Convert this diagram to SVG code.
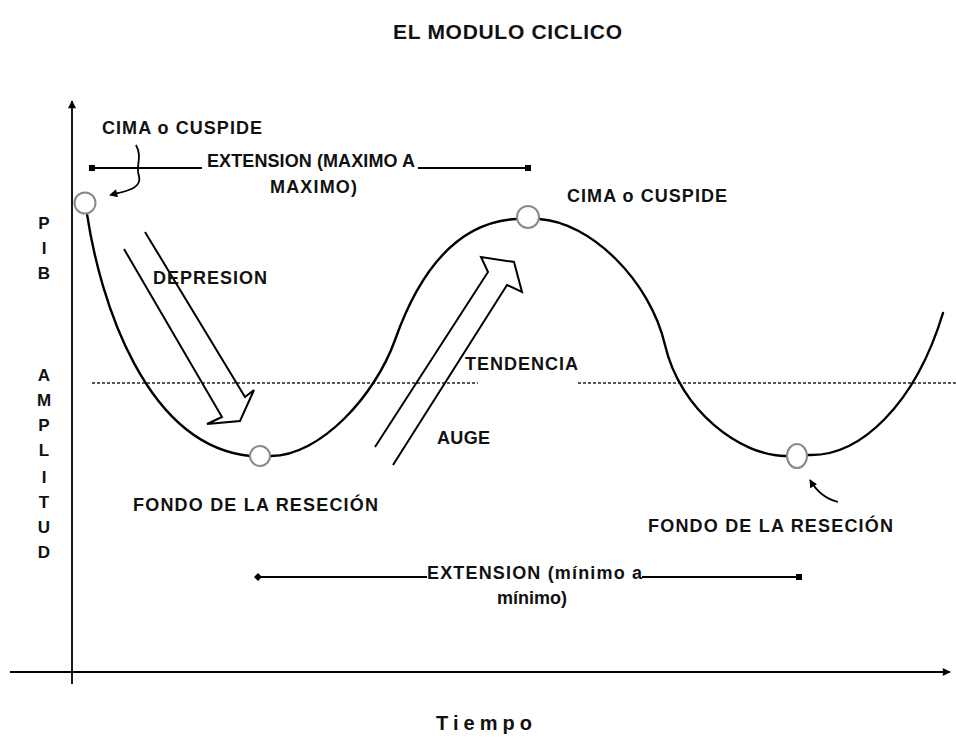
<svg xmlns="http://www.w3.org/2000/svg" width="956" height="738" viewBox="0 0 956 738">
<style>
text{font-family:"Liberation Sans",Arial,sans-serif;font-weight:bold;fill:#111;}
.lbl{font-size:18px;}
.ax{font-size:17px;text-anchor:middle;}
.ttl{font-size:21px;}
.tx{font-size:20px;}
.ln{stroke:#000;stroke-width:1.8;fill:none;}
.curve{stroke:#000;stroke-width:2.4;fill:none;stroke-linecap:round;}
.dot{stroke:#222;stroke-width:1.6;stroke-dasharray:3 2;fill:none;}
.pt{fill:#fff;stroke:#8a8a8a;stroke-width:2;}
.blk{stroke:#000;stroke-width:2;fill:none;stroke-linejoin:miter;}
</style>
<defs>
<marker id="ah" viewBox="0 0 10 10" refX="9" refY="5" markerWidth="9" markerHeight="8" markerUnits="userSpaceOnUse" orient="auto"><path d="M0,0 L10,5 L0,10 z" fill="#000"/></marker>
<marker id="sq" viewBox="0 0 6 6" refX="3" refY="3" markerWidth="6" markerHeight="6" markerUnits="userSpaceOnUse" orient="auto"><rect width="6" height="6" fill="#000"/></marker>
<marker id="dm" viewBox="0 0 8 8" refX="4" refY="4" markerWidth="8" markerHeight="8" markerUnits="userSpaceOnUse" orient="auto"><path d="M0,4 L4,0 L8,4 L4,8 z" fill="#000"/></marker>
</defs>
<rect width="956" height="738" fill="#fff"/>

<g id="title"><text class="ttl" x="393" y="39" textLength="229" lengthAdjust="spacing">EL MODULO CICLICO</text></g>

<g id="axes">
<line class="ln" x1="72" y1="684" x2="72" y2="101" marker-end="url(#ah)"/>
<line class="ln" x1="10" y1="672" x2="950" y2="672" marker-end="url(#ah)"/>
</g>

<g id="axis-label-y">
<text class="ax" x="44" y="229">P</text>
<text class="ax" x="44" y="254">I</text>
<text class="ax" x="44" y="279">B</text>
<text class="ax" x="44" y="381">A</text>
<text class="ax" x="44" y="406">M</text>
<text class="ax" x="44" y="431">P</text>
<text class="ax" x="44" y="456">L</text>
<text class="ax" x="44" y="483">I</text>
<text class="ax" x="44" y="508">T</text>
<text class="ax" x="44" y="533">U</text>
<text class="ax" x="44" y="558">D</text>
</g>
<g id="axis-label-x"><text class="tx" x="436" y="730" textLength="96" lengthAdjust="spacing">Tiempo</text></g>

<g id="tendencia-line">
<line class="dot" x1="92" y1="383" x2="478" y2="383"/>
<line class="dot" x1="578" y1="383" x2="956" y2="383"/>
</g>

<g id="cycle-curve">
<path class="curve" d="M87,214 C100,300 145,445 250,456 M271,456 C320,456 375,396 395,340 C418,275 455,222 517,219 M539,219 C590,222 650,280 665,345 C680,410 740,456 786,456 M808,455 C860,457 915,405 943,313"/>
</g>

<g id="connectors">
<path class="blk" d="M124,249 L222,417 L207,424 L240,421 L254,390 L245,397 L145,232"/>
<path class="blk" d="M375,447 L488,272 L481,257 L514,262 L522,292 L507,285 L393,465"/>
<path class="ln" d="M136,145 C143,158 135,166 139,176 C142,189 126,191 110,195" marker-end="url(#ah)"/>
<path class="ln" d="M838,502 C826,499 817,492 810,480" marker-end="url(#ah)"/>
<line class="ln" x1="92" y1="168" x2="202" y2="168" marker-start="url(#sq)"/>
<line class="ln" x1="418" y1="168" x2="528" y2="168" marker-end="url(#sq)"/>
<line class="ln" x1="258" y1="577" x2="427" y2="577" marker-start="url(#dm)"/>
<line class="ln" x1="642" y1="577" x2="799" y2="577" marker-end="url(#sq)"/>
</g>

<g id="cima1"><circle class="pt" cx="85" cy="203" r="10.5"/><text class="lbl" x="102" y="134" textLength="160" lengthAdjust="spacing">CIMA o CUSPIDE</text></g>
<g id="fondo1"><circle class="pt" cx="260" cy="456" r="10"/><text class="lbl" x="133" y="511" textLength="245" lengthAdjust="spacing">FONDO DE LA RESECIÓN</text></g>
<g id="cima2"><circle class="pt" cx="528" cy="217" r="11"/><text class="lbl" x="567" y="202" textLength="160" lengthAdjust="spacing">CIMA o CUSPIDE</text></g>
<g id="fondo2"><ellipse class="pt" cx="797" cy="456" rx="10" ry="12"/><text class="lbl" x="648" y="532" textLength="245" lengthAdjust="spacing">FONDO DE LA RESECIÓN</text></g>
<g id="depresion"><text class="lbl" x="153" y="284" textLength="114" lengthAdjust="spacing">DEPRESION</text></g>
<g id="tendencia"><text class="lbl" x="465" y="370" textLength="113" lengthAdjust="spacing">TENDENCIA</text></g>
<g id="auge"><text class="lbl" x="437" y="444" textLength="53" lengthAdjust="spacing">AUGE</text></g>
<g id="ext-max">
<text class="lbl" x="207" y="167" textLength="208" lengthAdjust="spacing">EXTENSION (MAXIMO A</text>
<text class="lbl" x="270" y="193" textLength="87" lengthAdjust="spacing">MAXIMO)</text>
</g>
<g id="ext-min">
<text class="lbl" x="427" y="579" textLength="215" lengthAdjust="spacing">EXTENSION (mínimo a</text>
<text class="lbl" x="497" y="604" textLength="70" lengthAdjust="spacing">mínimo)</text>
</g>
</svg>
